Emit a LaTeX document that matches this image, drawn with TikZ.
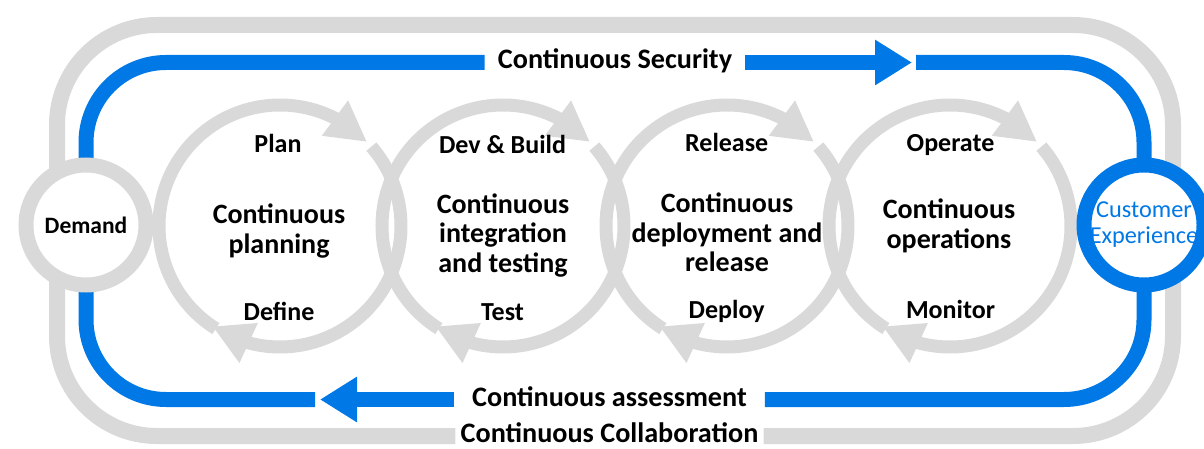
\documentclass[tikz,border=0pt]{standalone}
\usepackage{fontspec}
\setmainfont{Carlito}
\usetikzlibrary{arrows.meta,bending,backgrounds,positioning}
\definecolor{secblue}{RGB}{0,120,230}
\definecolor{ringgray}{RGB}{217,217,217}

\begin{document}
\begin{tikzpicture}
  [
  x=1pt, y=1pt,
  font=\bfseries,
  outer/.style={draw=ringgray, line width=16pt, rounded corners=100pt},
  loop/.style={draw=secblue, line width=15pt, rounded corners=80pt},
  loophead/.style={draw=secblue, line width=15pt, -{Triangle[length=37pt,width=43pt]}},
  cyc/.style={draw=ringgray, line width=13pt, -{Triangle[length=40pt,width=41pt]}},
  hub/.style={circle, draw=ringgray, fill=white, line width=15pt, minimum size=120pt, inner sep=0pt},
  title/.style={font=\bfseries\fontsize{28.2}{30}\selectfont, text height=19pt, text depth=6pt, inner ysep=0pt},
  stage/.style={font=\bfseries\fontsize{26}{28}\selectfont, anchor=base},
  focus/.style={font=\bfseries\fontsize{28}{29.5}\selectfont, align=center, anchor=base},
  ]
  \useasboundingbox (0,0) rectangle (1204,-449);

  \node[hub] (demand) at (86,-225) {\fontsize{23.5}{25}\selectfont Demand};
  \node[hub, draw=secblue, text=secblue, align=center, font=\fontsize{24.3}{26}\selectfont] (customer) at (1144,-225) {Customer\\Experience};

  \node[title, inner xsep=13pt] (security) at (615,-62.5) {Continuous Security};
  \node[title, inner xsep=18pt] (assess) at (609.5,-399.5) {Continuous assessment};
  \node[title, inner xsep=5pt] (collab) at (609.5,-436) {Continuous Collaboration};

  \coordinate (plan) at (280,-226);
  \coordinate (build) at (503,-226);
  \coordinate (deploy) at (727,-226);
  \coordinate (operate) at (950,-226);

  \node[stage] (plan-top) at (278,-152.7) {Plan};
  \node[stage] (plan-bot) at (279,-320) {Define};
  \node[stage] (build-top) at (502.5,-153.3) {Dev \& Build};
  \node[stage] (build-bot) at (502.5,-320) {Test};
  \node[stage] (deploy-top) at (726.7,-151.7) {Release};
  \node[stage] (deploy-bot) at (726.7,-318) {Deploy};
  \node[stage] (operate-top) at (950.5,-151.7) {Operate};
  \node[stage] (operate-bot) at (950.5,-318.3) {Monitor};

  \node[focus] (plan-txt) at (279,-253) {Continuous\\planning};
  \node[focus] (build-txt) at (503,-272) {Continuous\\integration\\and testing};
  \node[focus] (deploy-txt) at (727,-271.7) {Continuous\\deployment and\\release};
  \node[focus] (operate-txt) at (949,-248.3) {Continuous\\operations};

  \coordinate (ne) at (1173,-25);
  \coordinate (sw) at (57,-436);
  \coordinate (sechead) at (912,-62.5);
  \coordinate (secgap) at (916,-62.5);
  \coordinate (asshead) at (320,-399.5);
  \coordinate (assgap) at (315,-399.5);

  \begin{scope}[on background layer]
    \draw[outer] (collab.east) -| (ne) -| (sw) -- (collab.west);

    \draw[loop] (demand.center) |- (security.west);
    \draw[loophead] (security.east) -- (sechead);
    \draw[loop] (secgap) -| (customer.center);
    \draw[loop] (customer.center) |- (assess.east);
    \draw[loophead] (assess.west) -- (asshead);
    \draw[loop] (assgap) -| (demand.center);

    \foreach \c in {plan,build,deploy,operate} {
      \draw[cyc] (\c) ++(238:121pt) arc (238:44:121pt);
      \draw[cyc] (\c) ++(41:121pt) arc (41:-124:121pt);
    }
  \end{scope}
\end{tikzpicture}
\end{document}
